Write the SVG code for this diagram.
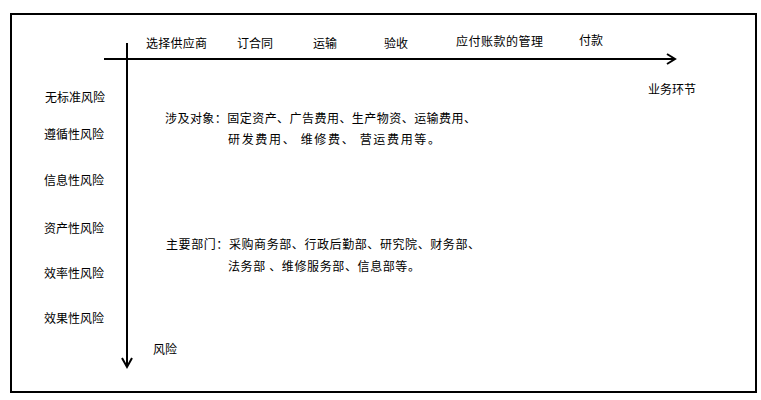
<svg xmlns="http://www.w3.org/2000/svg" width="761" height="400" viewBox="0 0 761 400">
<style>
text{font-family:"Noto Sans CJK SC","Liberation Sans",sans-serif;font-size:12px;fill:#000;dominant-baseline:central}
.ax{stroke:#000;stroke-width:2;fill:none}
</style>
<rect x="0" y="0" width="761" height="400" fill="#fff"/>
<rect id="frame" x="11" y="14" width="745" height="378" fill="none" stroke="#000" stroke-width="2"/>
<g id="connectors">
<line class="ax" x1="104" y1="59" x2="674" y2="59"/>
<polyline class="ax" points="667,54 675,59 667,64"/>
<line class="ax" x1="127" y1="43" x2="127" y2="366"/>
<polyline class="ax" stroke-width="1.8" points="122,358 127,367 132,358"/>
</g>
<g id="stages">
<text x="146" y="42" textLength="61" lengthAdjust="spacing">选择供应商</text>
<text x="237" y="42">订合同</text>
<text x="313" y="42">运输</text>
<text x="384" y="42">验收</text>
<text x="456" y="40" textLength="87" lengthAdjust="spacing">应付账款的管理</text>
<text x="579" y="39">付款</text>
<text x="648" y="88">业务环节</text>
</g>
<g id="risks">
<text x="45" y="96">无标准风险</text>
<text x="44" y="133">遵循性风险</text>
<text x="44" y="179">信息性风险</text>
<text x="44" y="227">资产性风险</text>
<text x="44" y="272">效率性风险</text>
<text x="44" y="317">效果性风险</text>
<text x="153" y="348">风险</text>
</g>
<g id="objects">
<text x="165" y="117" textLength="311" lengthAdjust="spacing">涉及对象：固定资产、广告费用、生产物资、运输费用、</text>
<text x="228" y="138" textLength="212" lengthAdjust="spacing" xml:space="preserve">研发费用、 维修费、 营运费用等。</text>
</g>
<g id="departments">
<text x="166" y="243" textLength="314" lengthAdjust="spacing">主要部门：采购商务部、行政后勤部、研究院、财务部、</text>
<text x="228" y="265" textLength="192" lengthAdjust="spacing" xml:space="preserve">法务部 、维修服务部、信息部等。</text>
</g>
</svg>
